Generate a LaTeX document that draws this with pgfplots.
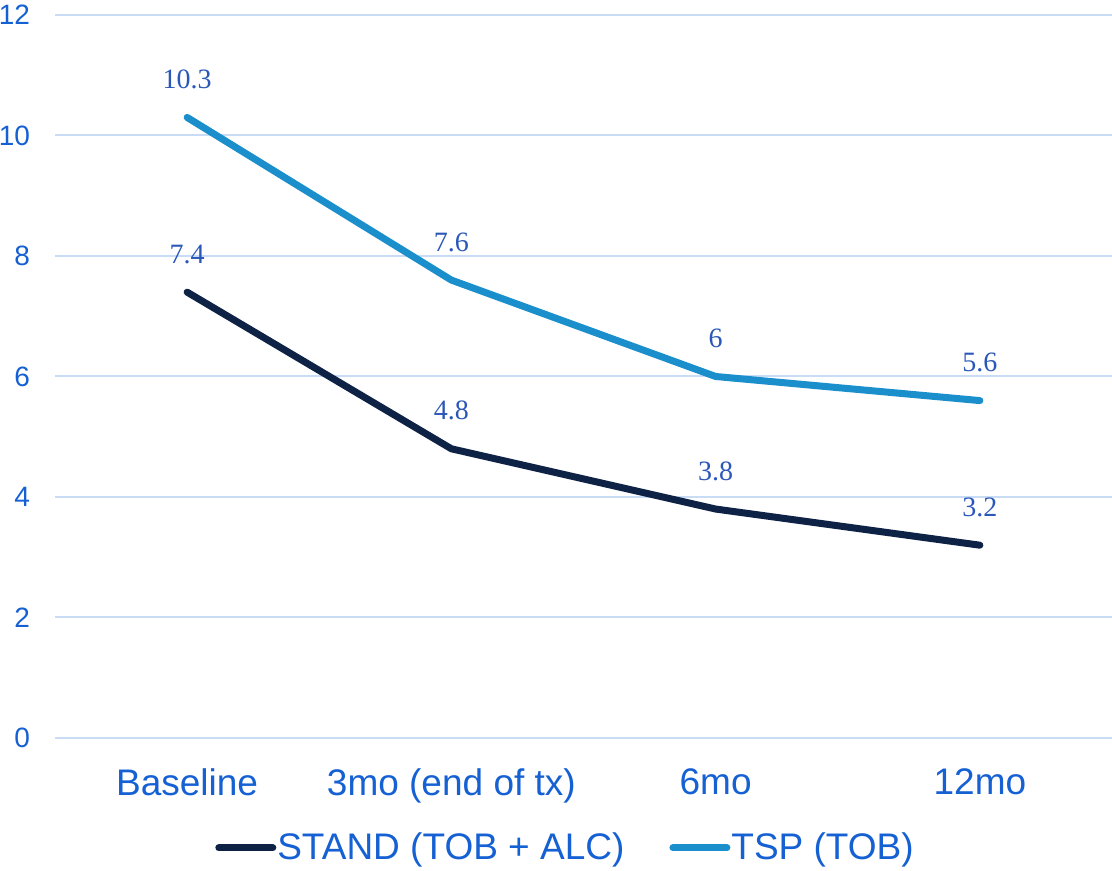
\documentclass[border=0pt]{standalone}
\usepackage{pgfplots}
\pgfplotsset{compat=1.18}
\usepackage{fontspec}
\setmainfont{Liberation Sans}
\newfontfamily\valuefont{Liberation Serif}
\definecolor{standnavy}{HTML}{0E2245}
\definecolor{tspblue}{HTML}{1B8FCB}
\definecolor{ticktext}{HTML}{1560D3}
\definecolor{valuetext}{HTML}{2B58B8}
\definecolor{gridblue}{HTML}{C9DCF5}
\begin{document}
\begin{tikzpicture}
\begin{axis}[
  scale only axis, width=528.5pt, height=361.5pt,
  xmin=-0.5, xmax=3.5, ymin=0, ymax=12,
  axis line style={draw=none},
  major tick length=0pt,
  ymajorgrids, grid style={gridblue, line width=1pt},
  ytick={0,2,...,12},
  xtick={0,1,2,3},
  xticklabels={Baseline,3mo (end of tx),6mo,12mo},
  /pgf/number format/assume math mode=true,
  yticklabel style={font=\fontsize{14}{16}\selectfont, text=ticktext, xshift=-9pt},
  xticklabel style={font=\fontsize{18.5}{22}\selectfont, text=ticktext, yshift=-12pt},
  nodes near coords={\pgfmathprintnumber{\pgfplotspointmeta}},
  every node near coord/.append style={font=\valuefont\fontsize{14}{16}\selectfont, text=valuetext, anchor=center, yshift=19pt},
  legend columns=2,
  legend style={draw=none, fill=none, at={(0.4825,-0.152)}, anchor=center,
    font=\fontsize{18.5}{22}\selectfont, text=ticktext,
    nodes={inner xsep=0.5pt},
    /tikz/every even column/.append style={column sep=22pt}},
  legend image code/.code={\draw[#1, line cap=round] (0pt,0pt) -- (27pt,0pt);},
]
\addplot[standnavy, line width=3.5pt, line join=round, line cap=round]
  coordinates {(0,7.4) (1,4.8) (2,3.8) (3,3.2)};
\addlegendentry{STAND (TOB + ALC)}
\addplot[tspblue, line width=3.5pt, line join=round, line cap=round]
  coordinates {(0,10.3) (1,7.6) (2,6) (3,5.6)};
\addlegendentry{TSP (TOB)}
\end{axis}
\pgfresetboundingbox
\path ([xshift=-27.5pt,yshift=-66.5pt]current axis.south west) rectangle ([yshift=7.5pt]current axis.north east);
\end{tikzpicture}
\end{document}
